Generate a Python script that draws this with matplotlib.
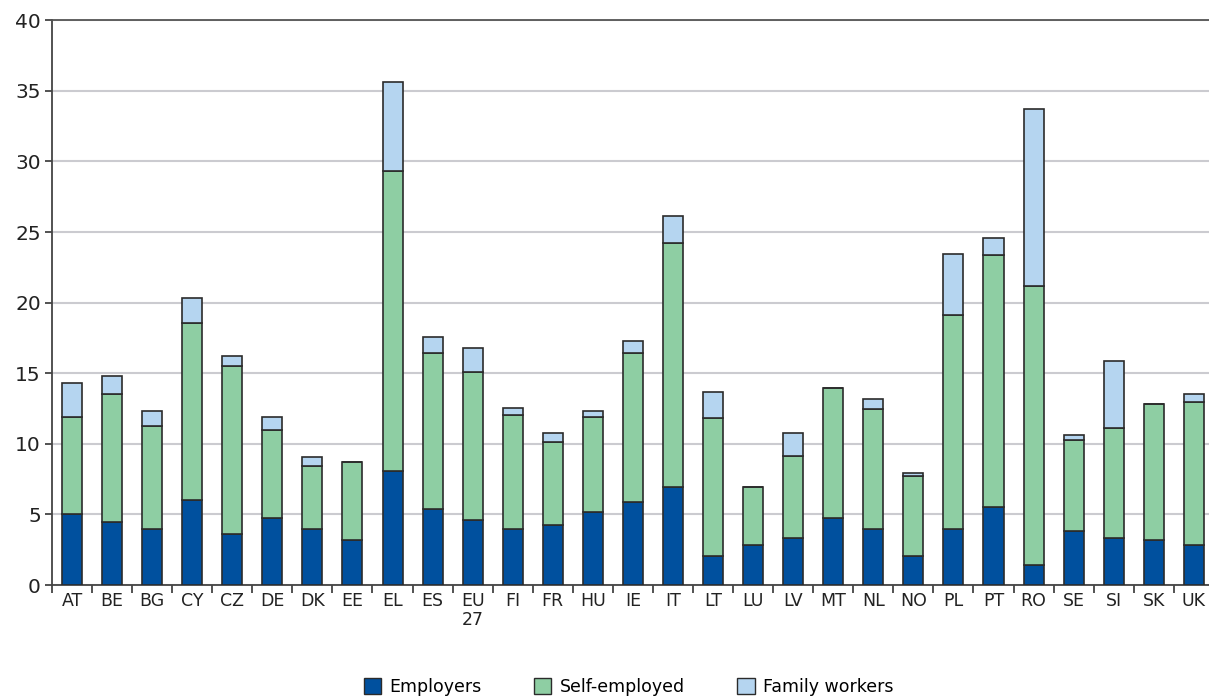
import numpy as np
import matplotlib.pyplot as plt
from matplotlib.patches import Patch

countries = ["AT", "BE", "BG", "CY", "CZ", "DE", "DK", "EE", "EL", "ES", "EU\n27",
             "FI", "FR", "HU", "IE", "IT", "LT", "LU", "LV", "MT", "NL", "NO",
             "PL", "PT", "RO", "SE", "SI", "SK", "UK"]

# tops of each layer, converted to segment sizes below
employers = [5.05, 4.45, 4.0, 6.05, 3.65, 4.75, 4.0, 3.2, 8.1, 5.4, 4.6,
             4.0, 4.25, 5.2, 5.85, 6.95, 2.05, 2.85, 3.35, 4.75, 4.0, 2.05,
             4.0, 5.55, 1.4, 3.8, 3.3, 3.2, 2.85]
self_top = [11.9, 13.5, 11.25, 18.55, 15.55, 10.95, 8.4, 8.75, 29.3, 16.45, 15.1,
            12.05, 10.15, 11.9, 16.45, 24.25, 11.85, 6.95, 9.15, 13.95, 12.5, 7.75,
            19.15, 23.4, 21.2, 10.25, 11.1, 12.8, 12.95]
total_top = [14.3, 14.8, 12.35, 20.3, 16.2, 11.9, 9.05, 8.75, 35.65, 17.6, 16.8,
             12.55, 10.8, 12.35, 17.3, 26.15, 13.65, 6.95, 10.8, 13.95, 13.15, 7.95,
             23.45, 24.6, 33.7, 10.6, 15.85, 12.8, 13.5]

employers = np.array(employers)
self_emp = np.array(self_top) - employers
family = np.array(total_top) - np.array(self_top)

c_emp = "#00509e"
c_self = "#8ecea3"
c_fam = "#b5d5f0"
edge = "#2b2b2b"

fig = plt.figure(figsize=(12.09, 6.99), dpi=100)
ax = fig.add_axes([0.043, 0.163, 0.961, 0.808])

x = np.arange(len(countries))
w = 0.5
ax.bar(x, employers, w, color=c_emp, edgecolor=edge, linewidth=1.2, zorder=3)
ax.bar(x, self_emp, w, bottom=employers, color=c_self, edgecolor=edge, linewidth=1.2, zorder=3)
ax.bar(x, family, w, bottom=np.array(self_top), color=c_fam, edgecolor=edge, linewidth=1.2, zorder=3)

ax.set_xlim(-0.5, len(countries) - 0.5)
ax.set_ylim(0, 40)
ax.set_yticks(range(0, 41, 5))
ax.yaxis.grid(True, color="#cbcbd0", linewidth=1.5, zorder=0)
ax.set_axisbelow(True)

ax.set_xticks(x)
ax.set_xticklabels(countries, fontsize=12.5, color="#222222", linespacing=1.05)
ax.set_xticks(np.arange(-0.5, len(countries), 1.0), minor=True)
ax.tick_params(axis="x", which="major", length=0, pad=5)
ax.tick_params(axis="x", which="minor", length=6, width=1.3, color="#444444")
ax.tick_params(axis="y", labelsize=14.5, length=5, width=1.3, color="#444444",
               labelcolor="#222222", pad=3)

for s in ["left", "bottom"]:
    ax.spines[s].set_color("#444444")
    ax.spines[s].set_linewidth(1.3)
ax.spines["top"].set_color("#555555")
ax.spines["top"].set_linewidth(1.3)
ax.spines["right"].set_visible(False)

handles = [Patch(facecolor=c_emp, edgecolor=edge, label="Employers"),
           Patch(facecolor=c_self, edgecolor=edge, label="Self-employed"),
           Patch(facecolor=c_fam, edgecolor=edge, label="Family workers")]
fig.legend(handles=handles, loc="lower center", bbox_to_anchor=(0.52, -0.018), ncol=3,
           frameon=False, fontsize=12.5, handlelength=1.0, handleheight=1.0,
           handletextpad=0.5, columnspacing=3.0)

fig.savefig("out.png", dpi=100)
